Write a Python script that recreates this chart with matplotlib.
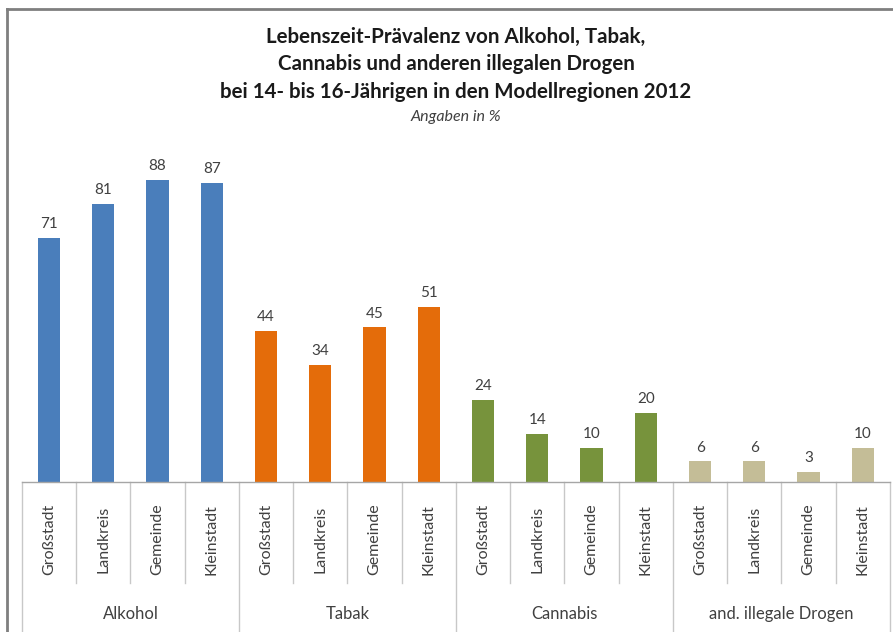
import matplotlib.pyplot as plt
from matplotlib.lines import Line2D
import numpy as np

plt.rcParams['font.family'] = ['Lato', 'DejaVu Sans']

# Daten: Lebenszeit-Prävalenz in %
gruppen = ['Alkohol', 'Tabak', 'Cannabis', 'and. illegale Drogen']
regionen = ['Großstadt', 'Landkreis', 'Gemeinde', 'Kleinstadt']
alkohol = [71, 81, 88, 87]
tabak = [44, 34, 45, 51]
cannabis = [24, 14, 10, 20]
andere = [6, 6, 3, 10]
farben = ['#4a7ebb', '#e46c0a', '#77933c', '#c4bd97']

werte = [alkohol, tabak, cannabis, andere]

fig = plt.figure(figsize=(8.93, 6.32), dpi=100)
ax = fig.add_axes([0.0246, 0.2373, 0.9720, 0.5436])

n = len(regionen)
textfarbe = '#404040'
for g, (serie, farbe) in enumerate(zip(werte, farben)):
    x = np.arange(n) + g * n
    ax.bar(x, serie, width=0.41, color=farbe, zorder=2)
    for xi, v in zip(x, serie):
        ax.text(xi, v + 2.0, str(v), ha='center', va='bottom',
                fontsize=11, color=textfarbe)

ax.set_xlim(-0.5, len(gruppen) * n - 0.5)
ax.set_ylim(0, 100)
for s in ax.spines.values():
    s.set_visible(False)
ax.set_xticks([])
ax.set_yticks([])

# Grundlinie und kategoriale Achse unterhalb
ax.plot([-0.5, len(gruppen) * n - 0.5], [0, 0], color='#a6a6a6', lw=1.0,
        clip_on=False, zorder=3)
trans = ax.get_xaxis_transform()
for i in range(len(gruppen) * n + 1):
    tief = -0.44 if i % n == 0 else -0.294
    ax.plot([i - 0.5, i - 0.5], [0, tief], color='#c8c8c8', lw=1.0,
            transform=trans, clip_on=False)

for g, gruppe in enumerate(gruppen):
    for j, region in enumerate(regionen):
        ax.text(g * n + j, -0.167, region, rotation=90, ha='center',
                va='center', fontsize=11.5, color=textfarbe, transform=trans)
    ax.text(g * n + (n - 1) / 2, -0.384, gruppe, ha='center', va='center',
            fontsize=12, color=textfarbe, transform=trans)

# Titel
titel = ['Lebenszeit-Prävalenz von Alkohol, Tabak,',
         'Cannabis und anderen illegalen Drogen',
         'bei 14- bis 16-Jährigen in den Modellregionen 2012']
for k, zeile in enumerate(titel):
    fig.text(456 / 893, 1 - (37 + 27.5 * k) / 632, zeile, ha='center',
             va='center', fontsize=14.8, fontweight='bold', color='#1a1a1a')
fig.text(456 / 893, 1 - 117 / 632, 'Angaben in %', ha='center', va='center',
         fontsize=11.5, style='italic', color=textfarbe)

# Rahmen links und oben
fig.add_artist(Line2D([7 / 893, 7 / 893], [0, 1 - 9 / 632], color='#7f7f7f',
                      lw=2, transform=fig.transFigure))
fig.add_artist(Line2D([7 / 893, 1], [1 - 9 / 632, 1 - 9 / 632], color='#7f7f7f',
                      lw=2, transform=fig.transFigure))

fig.savefig('out.png', dpi=100)
